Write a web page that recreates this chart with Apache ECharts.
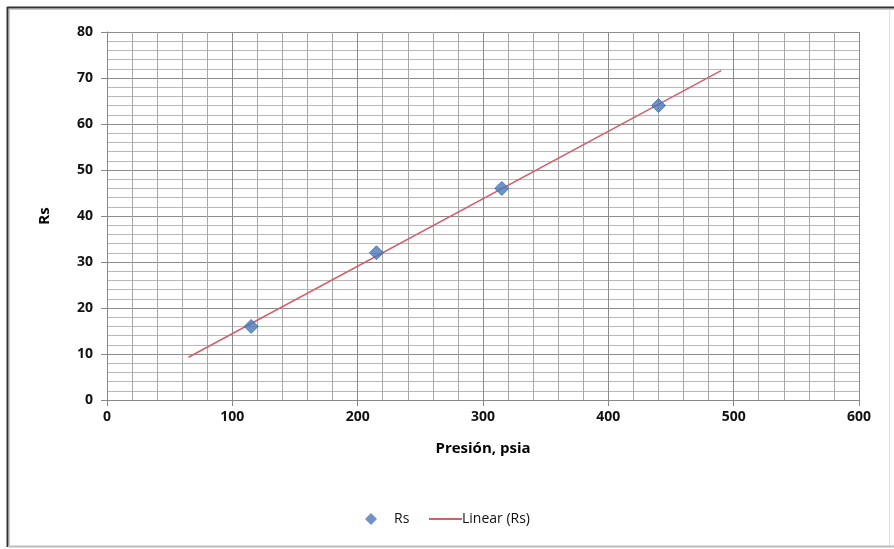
<!DOCTYPE html>
<html><head><meta charset="utf-8">
<script src="https://cdn.jsdelivr.net/npm/echarts@6/dist/echarts.min.js"></script>
<style>html,body{margin:0;padding:0;background:#fff}#c{width:894px;height:549px}</style>
</head><body><div id="c"></div>
<script>
const pressure = [115, 215, 315, 440];
const rs = [16, 32, 46, 64];
const trendX = [65, 490];
const trendY = [9.3, 71.6];
const xTicks = [0, 100, 200, 300, 400, 500, 600];
const yTicks = [0, 10, 20, 30, 40, 50, 60, 70, 80];

const chart = echarts.init(document.getElementById('c'), null, {renderer: 'canvas'});
const font = '"Open Sans", "Liberation Sans", sans-serif';
const lineColor = '#D0606A';
const markColor = '#4A78B8';
chart.setOption({
  backgroundColor: '#fff',
  animation: false,
  graphic: [
    {type: 'line', shape: {x1: 7.5, y1: 7, x2: 7.5, y2: 547}, style: {stroke: '#333', lineWidth: 2}},
    {type: 'line', shape: {x1: 7, y1: 7.5, x2: 894, y2: 7.5}, style: {stroke: '#333', lineWidth: 2}},
    {type: 'line', shape: {x1: 9.5, y1: 9, x2: 9.5, y2: 546}, style: {stroke: '#c8c8c8', lineWidth: 1}},
    {type: 'line', shape: {x1: 9, y1: 9.5, x2: 894, y2: 9.5}, style: {stroke: '#c8c8c8', lineWidth: 1}},
    {type: 'line', shape: {x1: 889.5, y1: 9, x2: 889.5, y2: 547}, style: {stroke: '#e0e0e0', lineWidth: 1}},
    {type: 'line', shape: {x1: 8, y1: 546.5, x2: 894, y2: 546.5}, style: {stroke: '#bdbdbd', lineWidth: 2}}
  ],
  grid: {left: 107, right: 35, top: 32, bottom: 149},
  xAxis: {
    type: 'value', min: xTicks[0], max: xTicks[xTicks.length - 1], interval: 100,
    name: 'Presión, psia', nameLocation: 'middle', nameGap: 41,
    nameTextStyle: {fontFamily: font, fontWeight: 'bold', fontSize: 15, color: '#000'},
    axisLine: {show: true, lineStyle: {color: '#888', width: 1}},
    axisTick: {show: true, length: 6, lineStyle: {color: '#888'}},
    axisLabel: {fontFamily: font, fontWeight: 'bold', fontSize: 14, color: '#111', margin: 10},
    splitLine: {show: true, lineStyle: {color: '#8c8c8c', width: 1}},
    minorTick: {show: false, splitNumber: 5},
    minorSplitLine: {show: true, lineStyle: {color: '#a8a8a8', width: 1}}
  },
  yAxis: {
    type: 'value', min: yTicks[0], max: yTicks[yTicks.length - 1], interval: 10,
    name: 'Rs', nameLocation: 'middle', nameGap: 55, nameRotate: 90,
    nameTextStyle: {fontFamily: font, fontWeight: 'bold', fontSize: 15, color: '#000'},
    axisLine: {show: true, lineStyle: {color: '#888', width: 1}},
    axisTick: {show: true, length: 6, lineStyle: {color: '#888'}},
    axisLabel: {fontFamily: font, fontWeight: 'bold', fontSize: 14, color: '#111', margin: 14},
    splitLine: {show: true, lineStyle: {color: '#8c8c8c', width: 1}},
    minorTick: {show: false, splitNumber: 5},
    minorSplitLine: {show: true, lineStyle: {color: '#b8b8b8', width: 1}}
  },
  legend: [
    {
      left: 360, top: 507, itemWidth: 12, itemHeight: 12, itemGap: 10,
      textStyle: {fontFamily: font, fontSize: 14, color: '#111', padding: [0, 0, 0, 12]},
      data: [{name: 'Rs', icon: 'diamond', itemStyle: {color: markColor, borderWidth: 0}}]
    },
    {
      left: 424, top: 507, itemWidth: 33, itemHeight: 2, itemGap: 10,
      textStyle: {fontFamily: font, fontSize: 14, color: '#111', padding: [0, 0, 0, -5]},
      data: [{name: 'Linear (Rs)', icon: 'rect', itemStyle: {color: lineColor}}]
    }
  ],
  series: [
    {
      name: 'Linear (Rs)', type: 'line', symbol: 'none',
      data: trendX.map((x, i) => [x, trendY[i]]),
      lineStyle: {color: lineColor, width: 1.5}, itemStyle: {color: lineColor}, z: 2
    },
    {
      name: 'Rs', type: 'scatter', symbol: 'diamond', symbolSize: 14,
      data: pressure.map((x, i) => [x, rs[i]]),
      itemStyle: {color: markColor, borderColor: '#3A6AA8', borderWidth: 1}, z: 3
    }
  ]
});
</script></body></html>
